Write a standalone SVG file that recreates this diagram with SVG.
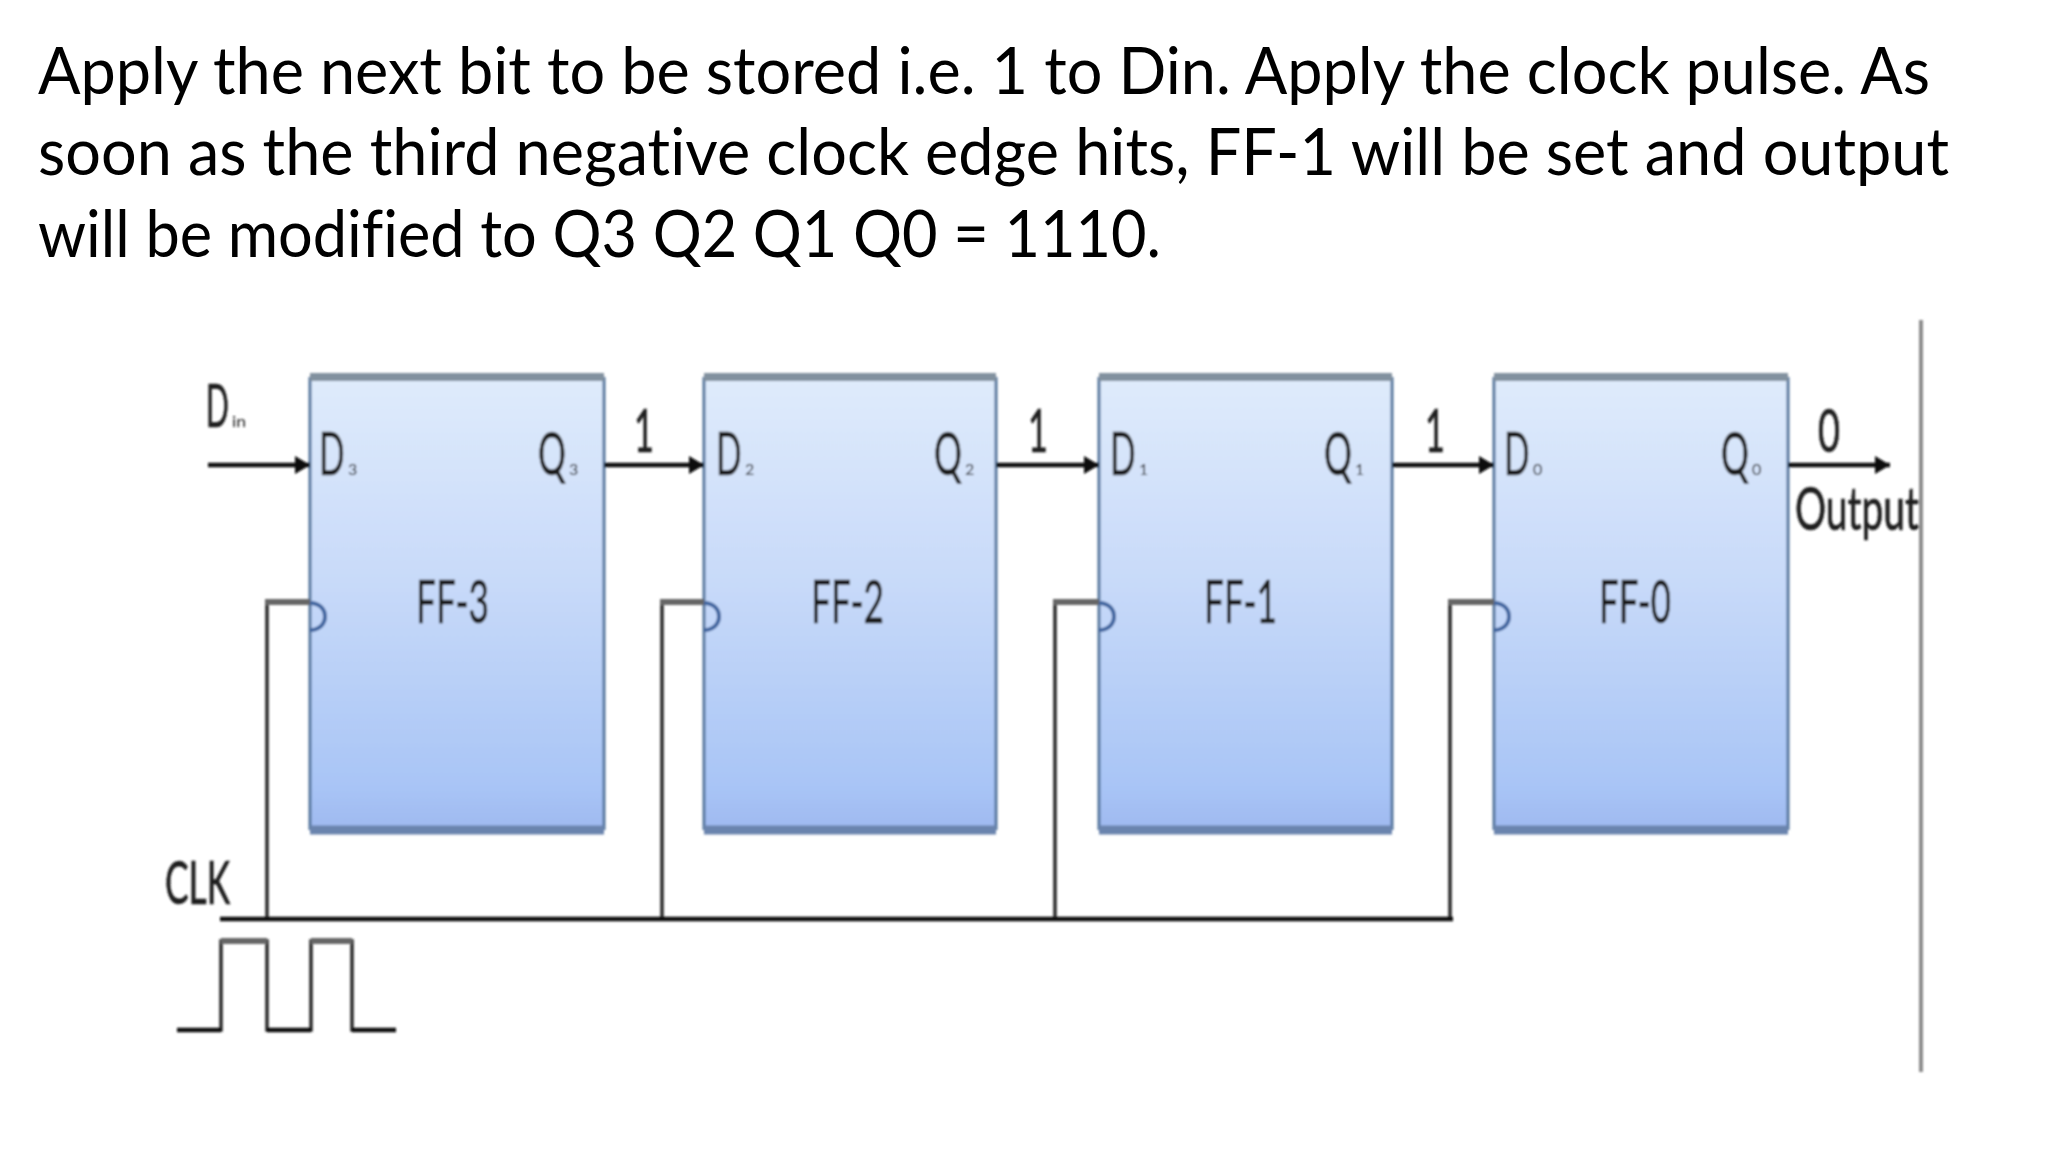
<svg xmlns="http://www.w3.org/2000/svg" width="2048" height="1152" viewBox="0 0 2048 1152">
<style>
text{font-family:"Lato","Liberation Sans",sans-serif;fill:#1c1c1c;font-variant-ligatures:none}
.head{font-size:65px;fill:#000}
.lab{font-size:60px;stroke:#1c1c1c;stroke-width:.7}
.big{font-size:60px;stroke:#1c1c1c;stroke-width:.7}
.sub{font-size:16px}
.box{fill:url(#ff)}
.side{fill:none;stroke:#54769e;stroke-width:3}
.top{fill:none;stroke:#82919f;stroke-width:8}
.bot{fill:none;stroke:#6b84ae;stroke-width:9}
.bub{fill:none;stroke:#3f659f;stroke-width:4}
.wire{fill:none;stroke:#0c0c0c;stroke-width:4.5}
.clk{fill:none;stroke:#2a2a2a;stroke-width:3.5}
.stub{fill:none;stroke:#666;stroke-width:6}
</style>
<defs>
<linearGradient id="ff" x1="0" y1="0" x2="0" y2="1">
<stop offset="0" stop-color="#dfebfb"/><stop offset="0.45" stop-color="#c8daf9"/><stop offset="0.9" stop-color="#a9c5f6"/><stop offset="1" stop-color="#9fb9f0"/>
</linearGradient>
<marker id="arrow" markerUnits="userSpaceOnUse" markerWidth="16" markerHeight="20" refX="15" refY="10" orient="auto">
<path d="M0 1L15 10L0 19Z" fill="#0c0c0c"/>
</marker>
<filter id="soft" x="-2%" y="-2%" width="104%" height="104%"><feGaussianBlur stdDeviation="0.9"/></filter>
</defs>
<rect width="2048" height="1152" fill="#fff"/>
<g id="heading">
<text class="head" x="38" y="94" textLength="1892" lengthAdjust="spacingAndGlyphs">Apply the next bit to be stored i.e. 1 to Din. Apply the clock pulse. As</text>
<text class="head" x="38" y="175" textLength="1911" lengthAdjust="spacingAndGlyphs">soon as the third negative clock edge hits, FF-1 will be set and output</text>
<text class="head" x="38" y="257" textLength="1123" lengthAdjust="spacingAndGlyphs">will be modified to Q3 Q2 Q1 Q0 = 1110.</text>
</g>
<g filter="url(#soft)">
<g id="ff3">
<rect class="box" x="310" y="377" width="294" height="453"/>
<path class="side" d="M310 377V830M604 377V830"/><path class="top" d="M310 377H604"/><path class="bot" d="M310 830H604"/>
<path class="bub" d="M310 603C330 603 330 630 310 630"/>
<text class="lab" transform="translate(319 475) scale(.56 1)">D</text><text class="sub" x="348" y="475">3</text>
<text class="lab" transform="translate(538 475) scale(.58 1)">Q</text><text class="sub" x="569" y="475">3</text>
<text class="lab" x="416" y="623" textLength="73" lengthAdjust="spacingAndGlyphs">FF-3</text>
</g>
<g id="ff2">
<rect class="box" x="704" y="377" width="292" height="453"/>
<path class="side" d="M704 377V830M996 377V830"/><path class="top" d="M704 377H996"/><path class="bot" d="M704 830H996"/>
<path class="bub" d="M704 603C724 603 724 630 704 630"/>
<text class="lab" transform="translate(716 475) scale(.56 1)">D</text><text class="sub" x="745" y="475">2</text>
<text class="lab" transform="translate(934 475) scale(.58 1)">Q</text><text class="sub" x="965" y="475">2</text>
<text class="lab" x="811" y="623" textLength="73" lengthAdjust="spacingAndGlyphs">FF-2</text>
</g>
<g id="ff1">
<rect class="box" x="1099" y="377" width="293" height="453"/>
<path class="side" d="M1099 377V830M1392 377V830"/><path class="top" d="M1099 377H1392"/><path class="bot" d="M1099 830H1392"/>
<path class="bub" d="M1099 603C1119 603 1119 630 1099 630"/>
<text class="lab" transform="translate(1110 475) scale(.56 1)">D</text><text class="sub" x="1139" y="475">1</text>
<text class="lab" transform="translate(1324 475) scale(.58 1)">Q</text><text class="sub" x="1355" y="475">1</text>
<text class="lab" x="1204" y="623" textLength="73" lengthAdjust="spacingAndGlyphs">FF-1</text>
</g>
<g id="ff0">
<rect class="box" x="1494" y="377" width="294" height="453"/>
<path class="side" d="M1494 377V830M1788 377V830"/><path class="top" d="M1494 377H1788"/><path class="bot" d="M1494 830H1788"/>
<path class="bub" d="M1494 603C1514 603 1514 630 1494 630"/>
<text class="lab" transform="translate(1504 475) scale(.56 1)">D</text><text class="sub" x="1533" y="475">0</text>
<text class="lab" transform="translate(1721 475) scale(.58 1)">Q</text><text class="sub" x="1752" y="475">0</text>
<text class="lab" x="1599" y="623" textLength="72" lengthAdjust="spacingAndGlyphs">FF-0</text>
</g>
<g id="connectors">
<path class="wire" marker-end="url(#arrow)" d="M208 465H310"/>
<path class="wire" marker-end="url(#arrow)" d="M604 465H704"/>
<path class="wire" marker-end="url(#arrow)" d="M996 465H1099"/>
<path class="wire" marker-end="url(#arrow)" d="M1392 465H1494"/>
<path class="wire" marker-end="url(#arrow)" d="M1788 465H1890"/>
<path class="clk" d="M267 919V602M662 919V602M1055 919V602M1450 919V602"/>
<path class="stub" d="M265 602H310M660 602H704M1053 602H1099M1448 602H1494"/>
<path class="wire" d="M220 919H1453"/>
</g>
<g id="clock">
<path class="clk" d="M177 1030H221V941H267V1030H311V941H352V1030H396"/>
<path class="wire" d="M177 1030H221M267 1030H311M352 1030H396"/>
<path class="stub" d="M221 941H267M311 941H352"/>
<text class="lab" x="165" y="904" textLength="65" lengthAdjust="spacingAndGlyphs" fill="#333">CLK</text>
</g>
<g id="labels">
<text class="lab" transform="translate(206 427) scale(.5 1)">D</text><text class="sub" x="232" y="427" textLength="14" lengthAdjust="spacingAndGlyphs">in</text>
<text class="big" x="634" y="452" textLength="20" lengthAdjust="spacingAndGlyphs">1</text>
<text class="big" x="1028" y="452" textLength="20" lengthAdjust="spacingAndGlyphs">1</text>
<text class="big" x="1425" y="452" textLength="20" lengthAdjust="spacingAndGlyphs">1</text>
<text class="big" x="1818" y="452" textLength="22" lengthAdjust="spacingAndGlyphs">0</text>
<text class="lab" x="1795" y="530" textLength="124" lengthAdjust="spacingAndGlyphs">Output</text>
</g>
<path id="edge" d="M1921 320V1072" fill="none" stroke="#8c8c8c" stroke-width="4"/>
</g>
</svg>
